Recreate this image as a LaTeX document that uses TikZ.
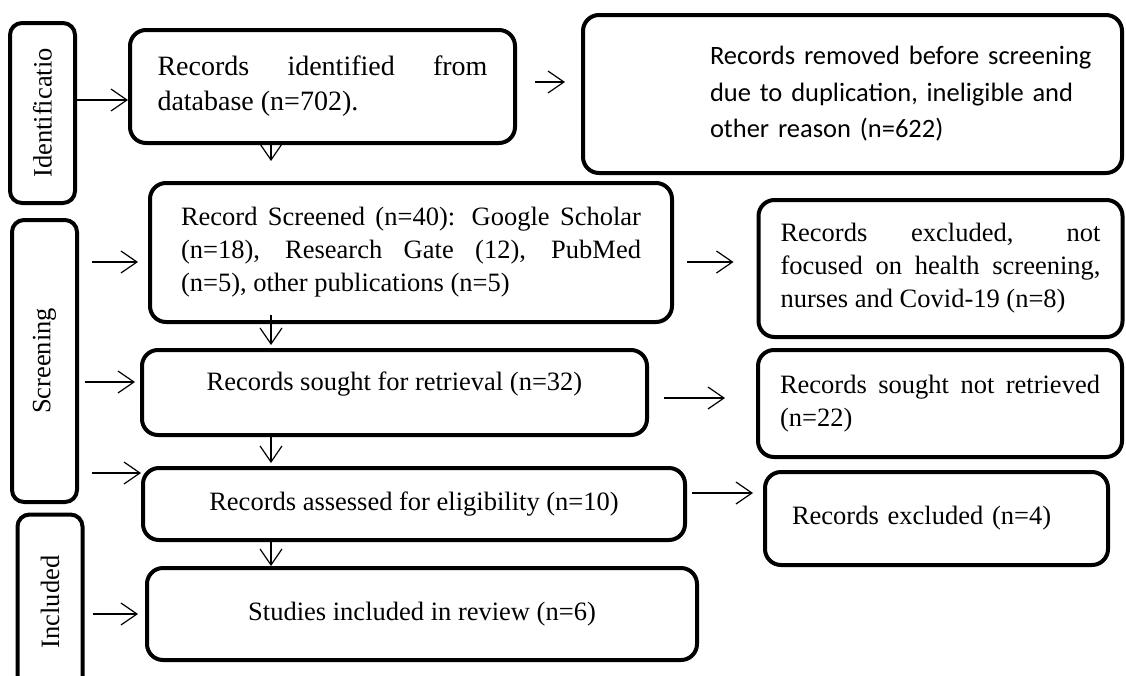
\documentclass[tikz,border=0pt]{standalone}
\usepackage{fontspec}
\setmainfont{Liberation Serif}
\newfontfamily\calibri{Carlito}
\usepackage{graphicx}
\usetikzlibrary{arrows.meta, positioning}
\hyphenpenalty=10000

\begin{document}
\begin{tikzpicture}[
    x=1pt, y=-1pt,
    box/.style={draw, line width=4pt, rounded corners=16pt, inner sep=0pt, font=\fontsize{26.5}{33}\selectfont},
    side/.style={draw, line width=4pt, rounded corners=12pt, inner sep=0pt, minimum width=65pt, font=\fontsize{26.5}{33}\selectfont},
    arr/.style={-{Straight Barb[length=16pt, width=22pt]}, line width=1.2pt}
]
    \useasboundingbox (0,0) rectangle (1126,675);
    \coordinate (col) at (271,0);

    \node[side, minimum height=180pt] (ide) at (42.5,113) {\rotatebox{90}{Identificatio}};
    \node[side, minimum height=282pt] (scn) at (44.5,361) {\rotatebox{90}{Screening}};
    \node[side, minimum height=175pt] (inc) at (50,602) {\rotatebox{90}{Included}};

    \node[box, minimum width=385pt, minimum height=113pt, text width=330pt, align=justify, font=\fontsize{28}{35}\selectfont] (rid) at (322.5,86.5) {Records identified from\linebreak database (n=702).};
    \node[box, minimum width=539pt, minimum height=158pt, text width=539pt, align=left, font=\calibri\fontsize{26.5}{36.5}\selectfont] (rem) at (852.5,94) {\leftskip=127pt\parfillskip=0pt plus 1fil Records removed before screening\\ due to duplication, ineligible and\\ other reason (n=622)\par};
    \node[box, minimum width=522pt, minimum height=139pt, text width=460pt, align=justify] (scr) at (411,252.5) {Record Screened (n=40): Google Scholar\linebreak (n=18), Research Gate (12), PubMed\linebreak (n=5), other publications (n=5)};
    \node[box, minimum width=364pt, minimum height=137pt, text width=320pt, align=justify] (exc) at (940.5,268.5) {Records excluded, not\linebreak focused on health screening,\linebreak nurses and Covid-19 (n=8)};
    \node[box, minimum width=505pt, minimum height=85pt, text height=18pt, text depth=23pt] (srt) at (394.5,392.5) {Records sought for retrieval (n=32)};
    \node[box, minimum width=364pt, minimum height=107pt, text width=320pt, align=justify] (nrt) at (940,403.5) {Records sought not retrieved\linebreak (n=22)};
    \node[box, minimum width=542pt, minimum height=72pt] (ass) at (414,504) {Records assessed for eligibility (n=10)};
    \node[box, minimum width=343pt, minimum height=93pt, text width=289pt, align=left] (ex4) at (936.5,518.5) {Records excluded (n=4)};
    \node[box, minimum width=550pt, minimum height=92pt] (stu) at (422,614) {Studies included in review (n=6)};

    \draw[arr] ([yshift=-13.5pt]rid.west -| ide.east) -- ([yshift=-13.5pt]rid.west);
    \draw[arr, shorten <=13pt, shorten >=10pt] ([yshift=-9.5pt]scr.west -| scn.east) -- ([yshift=-9.5pt]scr.west);
    \draw[arr, shorten <=6pt, shorten >=5pt] ([yshift=10.5pt]srt.west -| scn.east) -- ([yshift=10.5pt]srt.west);
    \draw[arr, shorten <=13pt] ([yshift=31pt]ass.west -| scn.east) -- ([yshift=31pt]ass.west);
    \draw[arr, shorten <=8pt, shorten >=7pt] (inc.east |- stu.west) -- (stu.west);

    \draw[arr, shorten <=18pt, shorten >=16pt] ([yshift=4.5pt]rid.east) -- ([yshift=4.5pt]rid.east -| rem.west);
    \draw[arr, shorten <=13pt, shorten >=23pt] ([yshift=-9.5pt]scr.east) -- ([yshift=-9.5pt]scr.east -| exc.west);
    \draw[arr, shorten <=15pt, shorten >=31pt] ([yshift=-5.5pt]srt.east) -- ([yshift=-5.5pt]srt.east -| nrt.west);
    \draw[arr, shorten <=5pt, shorten >=10pt] ([yshift=11pt]ass.east) -- ([yshift=11pt]ass.east -| ex4.west);

    \draw[arr, shorten >=20pt] (col |- rid.south) -- (col |- scr.north);
    \draw[arr, shorten <=-9pt, shorten >=3pt] (col |- scr.south) -- (col |- srt.north);
    \draw[arr, shorten <=-3pt, shorten >=3pt] (col |- srt.south) -- (col |- ass.north);
    \draw[arr] (col |- ass.south) -- (col |- stu.north);
\end{tikzpicture}
\end{document}
